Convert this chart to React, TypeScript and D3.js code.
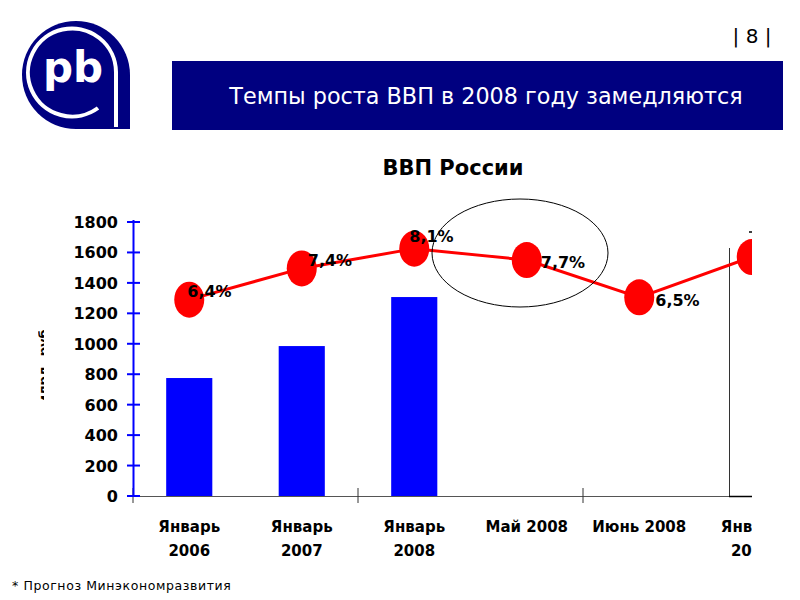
import React from "react";
import * as d3 from "d3";

const categories = ["Январь|2006", "Январь|2007", "Январь|2008", "Май 2008", "Июнь 2008", "Январь|2009"];
const gdpValues: (number | null)[] = [775, 985, 1307, null, null, null];
const growthValues = [1290, 1495, 1625, 1550, 1305, 1570];
const growthLabels = ["6,4%", "7,4%", "8,1%", "7,7%", "6,5%", ""];
const yTicks = [0, 200, 400, 600, 800, 1000, 1200, 1400, 1600, 1800];

// label placement offsets relative to each marker (layout only)
const labelDx = [-2, 6, -5, 14, 16, 0];
const labelDy = [-9, -8, -13, 2, 3, 0];

const W = 800;
const H = 600;
const navy = "#000080";
const font = "DejaVu Sans, sans-serif";

export default function App() {
  const x = d3.scaleBand<number>().domain(d3.range(categories.length)).range([133, 808]).paddingInner(0).paddingOuter(0);
  const y = d3.scaleLinear().domain([0, 1800]).range([496, 222]);
  const step = x.step();
  const barW = step * 0.41;
  const cx = (i: number) => (x(i) as number) + step / 2;
  const line = d3
    .line<number>()
    .x((_, i) => cx(i))
    .y((d) => y(d));

  return (
    <svg width={W} height={H} style={{ position: "absolute", left: 0, top: 0, background: "#fff" }} fontFamily={font}>
      <defs>
        <clipPath id="plotClip">
          <rect x={0} y={150} width={752} height={420} />
        </clipPath>
        <clipPath id="ytitleClip">
          <rect x={38} y={330} width={6} height={70} />
        </clipPath>
      </defs>
      <rect x={0} y={0} width={W} height={H} fill="#fff" />

      {/* logo */}
      <g>
        <path d="M76,129 A54,54 0 1,1 130,75 L130,129 Z" fill={navy} />
        <path d="M116,127 L116,72 A44,44 0 1,0 98,108" fill="none" stroke="#fff" strokeWidth={4} />
        <text x={73} y={82} fill="#fff" fontSize={42} fontWeight="bold" textAnchor="middle" fontFamily={font}>pb</text>
      </g>

      {/* page number */}
      <text x={752} y={43} fontSize={20} textAnchor="middle" fill="#000">| 8 |</text>

      {/* header bar */}
      <rect x={172} y={61} width={611} height={69} fill={navy} />
      <text x={486} y={104} fill="#fff" fontSize={22.3} textAnchor="middle">Темпы роста ВВП в 2008 году замедляются</text>

      {/* chart title */}
      <text x={453} y={175} fontSize={21} fontWeight="bold" textAnchor="middle">ВВП России</text>

      {/* y axis title (cropped) */}
      <g clipPath="url(#ytitleClip)">
        <text transform="translate(48,365) rotate(-90)" fontSize={13} fontWeight="bold" textAnchor="middle">млрд. руб.</text>
      </g>

      <g clipPath="url(#plotClip)">
        {/* bars */}
        {gdpValues.map((v, i) =>
          v == null ? null : (
            <rect key={i} x={cx(i) - barW / 2} y={y(v)} width={barW} height={y(0) - y(v)} fill="#0000ff" />
          )
        )}
        {/* x axis */}
        <line x1={133} x2={808} y1={496.5} y2={496.5} stroke="#555" strokeWidth={1} />
        {[0, 2, 4, 6].map((k) => {
          const xx = 133 + k * step;
          return <line key={k} x1={xx} x2={xx} y1={488} y2={503} stroke="#333" strokeWidth={1} />;
        })}
        {/* right vertical line */}
        <line x1={729.5} x2={729.5} y1={248} y2={496} stroke="#333" strokeWidth={1} />
        <line x1={729} x2={752} y1={496.5} y2={496.5} stroke="#000" strokeWidth={1.5} />
        <line x1={749} x2={752} y1={232} y2={232} stroke="#000" strokeWidth={1.5} />

        {/* x labels */}
        {categories.map((c, i) => {
          const parts = c.split("|");
          return (
            <text key={i} x={cx(i)} y={532} fontSize={15} fontWeight="bold" textAnchor="middle">
              {parts.map((p, j) => (
                <tspan key={j} x={cx(i)} dy={j === 0 ? 0 : 24}>
                  {p}
                </tspan>
              ))}
            </text>
          );
        })}

        {/* line series */}
        <path d={line(growthValues) || ""} fill="none" stroke="#ff0000" strokeWidth={3} />
        {growthValues.map((v, i) => (
          <ellipse key={i} cx={cx(i)} cy={y(v)} rx={15} ry={18} fill="#ff0000" />
        ))}
        {growthValues.map((v, i) =>
          growthLabels[i] ? (
            <text key={i} x={cx(i) + labelDx[i]} y={y(v) + labelDy[i] + 6} fontSize={16} fontWeight="bold" fill="#000">
              {growthLabels[i]}
            </text>
          ) : null
        )}
      </g>

      {/* highlight ellipse */}
      <ellipse cx={520} cy={253} rx={88} ry={54} fill="none" stroke="#000" strokeWidth={1} />

      {/* y axis */}
      <line x1={133.5} x2={133.5} y1={220} y2={497} stroke="#0000ff" strokeWidth={2} />
      {yTicks.map((t) => (
        <g key={t}>
          <line x1={127} x2={140} y1={y(t)} y2={y(t)} stroke="#0000ff" strokeWidth={2} />
          <text x={118} y={y(t) + 6} fontSize={16} fontWeight="bold" textAnchor="end">
            {t}
          </text>
        </g>
      ))}

      {/* footnote */}
      <text x={12} y={590} fontSize={12.5} letterSpacing={0.6}>* Прогноз Минэкономразвития</text>
    </svg>
  );
}
